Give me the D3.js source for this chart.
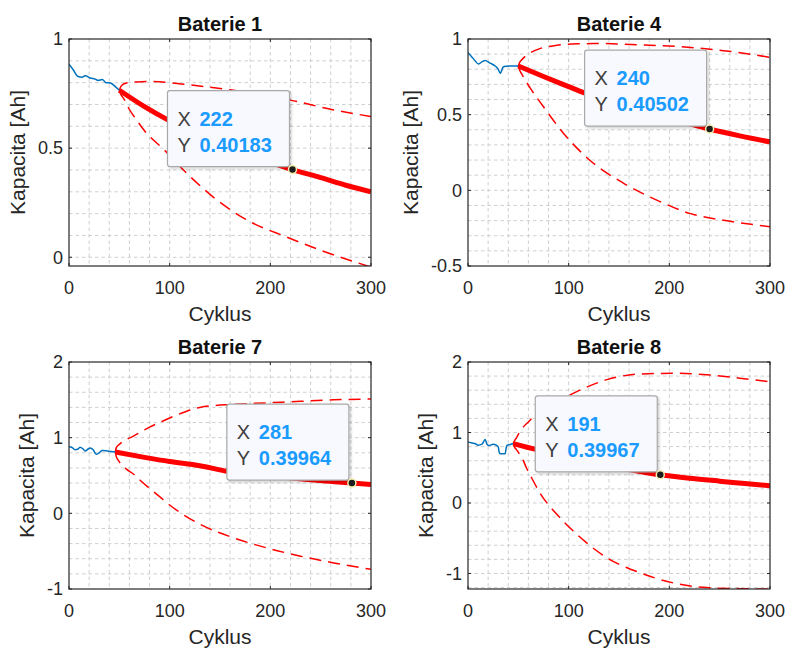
<!DOCTYPE html>
<html>
<head>
<meta charset="utf-8">
<script src="https://cdn.jsdelivr.net/npm/d3@7"></script>
<style>
  html, body { margin: 0; padding: 0; background: #ffffff; }
  svg { display: block; font-family: "Liberation Sans", Arial, Helvetica, sans-serif; }
</style>
</head>
<body>
<svg id="chart" width="787" height="648"></svg>
<script>
// ---- data: capacity [Ah] vs. cycle, measured (blue), predicted (red) and bounds (dashed) ----
const titles = ["Baterie 1", "Baterie 4", "Baterie 7", "Baterie 8"];
const xLabel = "Cyklus";
const yLabel = "Kapacita [Ah]";
const xTicks = [0, 100, 200, 300];

const measured1 = [[0,0.885],[4,0.86],[9,0.828],[13,0.825],[16,0.832],[21,0.821],[26,0.816],[29,0.81],[33,0.814],[37,0.80],[41,0.798],[46,0.782],[50,0.765]];
const predicted1 = [[50,0.765],[75,0.69],[100,0.625],[125,0.57],[150,0.52],[175,0.475],[200,0.435],[222,0.40183],[250,0.365],[275,0.33],[300,0.30]];
const upper1 = [[50,0.765],[51,0.778],[53,0.79],[57,0.798],[67,0.803],[80,0.805],[100,0.80],[120,0.79],[160,0.767],[190,0.745],[220,0.72],[263,0.675],[300,0.645]];
const lower1 = [[50,0.765],[51,0.752],[55,0.722],[59,0.685],[67,0.63],[75,0.58],[95,0.49],[117,0.385],[143,0.277],[177,0.17],[216,0.093],[250,0.032],[300,-0.045]];

const measured4 = [[0,0.91],[4,0.88],[7,0.856],[10.5,0.835],[14,0.85],[17,0.858],[22,0.84],[27,0.822],[30,0.80],[32,0.773],[35,0.815],[38,0.82],[42,0.822],[50,0.822]];
const predicted4 = [[50,0.822],[75,0.752],[100,0.685],[115,0.645],[140,0.59],[165,0.54],[190,0.495],[215,0.45],[240,0.40502],[270,0.36],[300,0.32]];
const upper4 = [[50,0.822],[51,0.84],[53,0.86],[58,0.892],[65,0.92],[72,0.938],[88,0.958],[108,0.968],[130,0.97],[170,0.962],[211,0.949],[254,0.923],[300,0.879]];
const lower4 = [[50,0.822],[51,0.80],[54,0.762],[62,0.674],[75,0.552],[95,0.376],[121,0.199],[155,0.045],[188,-0.066],[221,-0.154],[254,-0.198],[300,-0.24]];

const measured7 = [[0,0.88],[3,0.87],[6,0.84],[9,0.85],[11,0.875],[14,0.85],[16,0.825],[19,0.85],[21,0.865],[24,0.84],[27,0.78],[30,0.80],[33,0.83],[38,0.825],[46,0.81]];
const predicted7 = [[46,0.81],[75,0.74],[100,0.685],[130,0.63],[157,0.555],[196,0.50],[229,0.457],[262,0.42],[281,0.39964],[300,0.38]];
const upper7 = [[46,0.81],[47,0.868],[49,0.90],[52,0.935],[57,0.975],[64,1.02],[72,1.08],[80,1.14],[90,1.20],[100,1.26],[115,1.34],[130,1.40],[163,1.44],[196,1.46],[230,1.48],[263,1.50],[300,1.51]];
const lower7 = [[46,0.81],[47,0.75],[49,0.70],[52,0.645],[57,0.585],[64,0.52],[72,0.42],[80,0.33],[90,0.22],[100,0.11],[115,-0.03],[130,-0.144],[163,-0.322],[196,-0.455],[230,-0.566],[263,-0.655],[300,-0.74]];

const measured8 = [[0,0.865],[4,0.85],[7,0.843],[10,0.82],[14,0.835],[17,0.90],[19,0.83],[21,0.815],[25,0.833],[28,0.82],[30,0.795],[31,0.72],[32,0.70],[37,0.70],[38,0.79],[39,0.82],[42,0.83],[45,0.843]];
const predicted8 = [[45,0.843],[70,0.75],[100,0.65],[130,0.56],[160,0.475],[191,0.39967],[220,0.35],[250,0.31],[275,0.275],[300,0.245]];
const upper8 = [[45,0.843],[46,0.88],[48,0.92],[51,1.0],[55,1.08],[60,1.15],[65,1.22],[75,1.33],[90,1.45],[108,1.58],[138,1.75],[171,1.83],[204,1.84],[237,1.82],[270,1.77],[300,1.72]];
const lower8 = [[45,0.843],[46,0.80],[48,0.76],[50,0.72],[55,0.60],[58,0.50],[62,0.39],[72,0.13],[88,-0.157],[108,-0.443],[138,-0.777],[171,-0.99],[204,-1.134],[237,-1.20],[270,-1.215],[300,-1.22]];

const yDomains = [[-0.04, 1], [-0.5, 1], [-1, 2], [-1.22, 2]];
const yTicks = [[0, 0.5, 1], [-0.5, 0, 0.5, 1], [-1, 0, 1, 2], [-1, 0, 1, 2]];
const yMinorStep = [0.1, 0.1, 0.2, 0.2];
const xMinorStep = 20;
// data tips: [cycle, capacity]
const tips = [[222, 0.40183], [240, 0.40502], [281, 0.39964], [191, 0.39967]];
const tipXText = ["222", "240", "281", "191"];
const tipYText = ["0.40183", "0.40502", "0.39964", "0.39967"];

const series = [
  {measured: measured1, predicted: predicted1, upper: upper1, lower: lower1},
  {measured: measured4, predicted: predicted4, upper: upper4, lower: lower4},
  {measured: measured7, predicted: predicted7, upper: upper7, lower: lower7},
  {measured: measured8, predicted: predicted8, upper: upper8, lower: lower8}
];

// ---- layout of the 2x2 grid of axes ----
const cols = [69, 468];
const rows = [39, 362];
const axW = 302, axH = 227;

const svg = d3.select("#chart");
const defs = svg.append("defs");

const shadow = defs.append("filter").attr("id", "tipShadow").attr("x", "-10%").attr("y", "-10%").attr("width", "130%").attr("height", "130%");
shadow.append("feDropShadow").attr("dx", 1.5).attr("dy", 1.5).attr("stdDeviation", 1.2).attr("flood-color", "#000").attr("flood-opacity", 0.18);

titles.forEach((title, i) => {
  const left = cols[i % 2], top = rows[Math.floor(i / 2)];
  const x = d3.scaleLinear().domain([0, 300]).range([left, left + axW]);
  const y = d3.scaleLinear().domain(yDomains[i]).range([top + axH, top]);
  const g = svg.append("g");
  const s = series[i];

  // grid (major and minor drawn dashed)
  const xGrid = d3.range(0, 300 + 1e-9, xMinorStep).filter(v => v > 0 && v < 300);
  const [y0, y1] = yDomains[i];
  const step = yMinorStep[i];
  const yGrid = d3.range(Math.ceil(y0 / step - 1e-6), Math.floor(y1 / step + 1e-6) + 1)
    .map(k => +(k * step).toFixed(6)).filter(v => v > y0 + 1e-6 && v < y1 - 1e-6);
  const grid = g.append("g").attr("stroke", "#cacaca").attr("stroke-width", 0.9).attr("stroke-dasharray", "3.5,3");
  grid.selectAll("line.vx").data(xGrid).join("line")
    .attr("x1", d => x(d)).attr("x2", d => x(d)).attr("y1", top).attr("y2", top + axH);
  grid.selectAll("line.hy").data(yGrid).join("line")
    .attr("x1", left).attr("x2", left + axW).attr("y1", d => y(d)).attr("y2", d => y(d));

  // clipping to the axes box
  const clipId = "clip" + i;
  defs.append("clipPath").attr("id", clipId).append("rect")
    .attr("x", left).attr("y", top).attr("width", axW).attr("height", axH);
  const plot = g.append("g").attr("clip-path", `url(#${clipId})`);

  const line = d3.line().x(d => x(d[0])).y(d => y(d[1])).curve(d3.curveMonotoneX);
  const smooth = d3.line().x(d => x(d[0])).y(d => y(d[1])).curve(d3.curveMonotoneX);

  plot.append("path").datum(s.upper).attr("d", smooth).attr("fill", "none")
    .attr("stroke", "#ff0000").attr("stroke-width", 1.5).attr("stroke-dasharray", "12,7");
  plot.append("path").datum(s.lower).attr("d", smooth).attr("fill", "none")
    .attr("stroke", "#ff0000").attr("stroke-width", 1.5).attr("stroke-dasharray", "12,7");
  plot.append("path").datum(s.measured).attr("d", line).attr("fill", "none")
    .attr("stroke", "#0072BD").attr("stroke-width", 1.5).attr("stroke-linejoin", "round");
  plot.append("path").datum(s.predicted).attr("d", smooth).attr("fill", "none")
    .attr("stroke", "#ff0000").attr("stroke-width", 5).attr("stroke-linecap", "butt");

  // axes box and inward ticks
  const axisColor = "#262626";
  g.append("rect").attr("x", left).attr("y", top).attr("width", axW).attr("height", axH)
    .attr("fill", "none").attr("stroke", axisColor).attr("stroke-width", 1.2);
  const tl = 3;
  const ticks = g.append("g").attr("stroke", axisColor).attr("stroke-width", 1);
  xTicks.forEach(v => {
    ticks.append("line").attr("x1", x(v)).attr("x2", x(v)).attr("y1", top + axH).attr("y2", top + axH - tl);
    ticks.append("line").attr("x1", x(v)).attr("x2", x(v)).attr("y1", top).attr("y2", top + tl);
  });
  yTicks[i].forEach(v => {
    ticks.append("line").attr("x1", left).attr("x2", left + tl).attr("y1", y(v)).attr("y2", y(v));
    ticks.append("line").attr("x1", left + axW).attr("x2", left + axW - tl).attr("y1", y(v)).attr("y2", y(v));
  });

  // tick labels
  const fmt = v => String(v);
  g.append("g").selectAll("text").data(xTicks).join("text")
    .attr("x", d => x(d)).attr("y", top + axH + 28).attr("text-anchor", "middle")
    .attr("font-size", 18).attr("fill", axisColor).text(fmt);
  const yl = g.append("g");
  yl.selectAll("text").data(yTicks[i]).join("text")
    .attr("x", left - 6).attr("y", d => y(d)).attr("dy", "0.35em").attr("text-anchor", "end")
    .attr("font-size", 18).attr("fill", axisColor).text(fmt);
  const minX = d3.min(yl.selectAll("text").nodes(), n => n.getBBox().x);

  // axis labels and title
  g.append("text").attr("x", left + axW / 2).attr("y", top + axH + 55).attr("text-anchor", "middle")
    .attr("font-size", 21).attr("fill", axisColor).text(xLabel);
  g.append("text").attr("transform", `translate(${minX - 20},${top + axH / 2}) rotate(-90)`)
    .attr("text-anchor", "middle").attr("dy", "0.35em")
    .attr("font-size", 21).attr("fill", axisColor).text(yLabel);
  g.append("text").attr("x", left + axW / 2).attr("y", top - 8.5).attr("text-anchor", "middle")
    .attr("font-size", 20).attr("font-weight", "bold").attr("fill", "#111").text(title);

  // data tip
  const [tx, ty] = tips[i];
  const px = x(tx), py = y(ty);
  const bw = 122, bh = 76;
  const bx = px - 3 - bw, by = py - 3 - bh;
  const tip = g.append("g");
  tip.append("rect").attr("x", bx).attr("y", by).attr("width", bw).attr("height", bh)
    .attr("rx", 2.5).attr("fill", "#f8f9fe").attr("stroke", "#a9a9a9").attr("stroke-width", 1.2)
    .attr("filter", "url(#tipShadow)");
  const row = (label, value, dyBase) => {
    const t = tip.append("text").attr("x", bx + 10).attr("y", by + dyBase).attr("font-size", 20);
    t.append("tspan").attr("fill", "#404040").text(label);
    t.append("tspan").attr("x", bx + 32).attr("fill", "#1a9bff").attr("font-weight", "bold").text(value);
  };
  row("X", tipXText[i], 35);
  row("Y", tipYText[i], 61);
  tip.append("circle").attr("cx", px).attr("cy", py).attr("r", 4)
    .attr("fill", "#1c1c1c").attr("stroke", "#f3eeb0").attr("stroke-width", 1.5);
});
</script>
</body>
</html>
